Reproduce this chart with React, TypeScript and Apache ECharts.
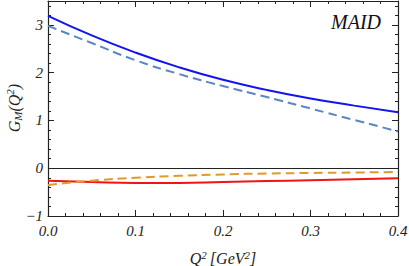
import React, { useEffect, useRef } from "react";
import * as echarts from "echarts";

const q2 = [0, 0.05, 0.1, 0.15, 0.2, 0.25, 0.3, 0.35, 0.4];
const gmSolidBlue = [3.19, 2.78, 2.42, 2.11, 1.85, 1.64, 1.46, 1.31, 1.17];
const gmDashedBlue = [2.98, 2.62, 2.26, 1.97, 1.72, 1.49, 1.25, 1.01, 0.77];
const gmSolidRed = [-0.26, -0.29, -0.31, -0.31, -0.29, -0.27, -0.25, -0.23, -0.21];
const gmDashedOrange = [-0.35, -0.26, -0.2, -0.16, -0.13, -0.11, -0.1, -0.09, -0.08];

const FONT = "Liberation Serif";

const pairs = (ys: number[]) => q2.map((x, i) => [x, ys[i]]);

export default function App() {
  const ref = useRef<HTMLDivElement>(null);
  useEffect(() => {
    if (!ref.current) return;
    const chart = echarts.init(ref.current, null, { renderer: "svg" });
    const frameLine = { show: true, onZero: false, lineStyle: { color: "#222", width: 1.2 } };
    const labelStyle = { fontFamily: FONT, fontStyle: "italic" as const, fontSize: 15, color: "#222" };
    const tick = { show: true, inside: true, length: 6, lineStyle: { color: "#222" } };
    const minor = { show: true, splitNumber: 5, length: 3, lineStyle: { color: "#222" } };
    chart.setOption({
      animation: false,
      backgroundColor: "#fff",
      textStyle: { fontFamily: FONT, fontStyle: "italic" },
      grid: { left: 48, right: 11, top: 1, bottom: 50, containLabel: false, outerBoundsMode: "none" },
      xAxis: [
        {
          type: "value",
          min: 0,
          max: 0.4,
          interval: 0.1,
          axisLine: frameLine,
          axisTick: tick,
          minorTick: minor,
          splitLine: { show: false },
          axisLabel: { ...labelStyle, margin: 7, formatter: (v: number) => v.toFixed(1) },
          name: "{i|Q}{s|2} {i|[GeV}{s|2}{i|]}",
          nameLocation: "middle",
          nameGap: 33,
          nameTextStyle: {
            rich: {
              i: { fontFamily: FONT, fontStyle: "italic", fontSize: 16, color: "#222" },
              s: { fontFamily: FONT, fontStyle: "italic", fontSize: 11, color: "#222", verticalAlign: "top", padding: [0, 0, 8, 0] },
            },
          },
        },
        {
          type: "value",
          position: "top",
          min: 0,
          max: 0.4,
          interval: 0.1,
          axisLine: frameLine,
          axisTick: tick,
          minorTick: minor,
          splitLine: { show: false },
          axisLabel: { show: false },
        },
      ],
      yAxis: [
        {
          type: "value",
          min: -1,
          max: 3.5,
          interval: 1,
          axisLine: frameLine,
          axisTick: tick,
          minorTick: minor,
          splitLine: { show: false },
          axisLabel: {
            ...labelStyle,
            margin: 5,
            formatter: (v: number) => (v > 3.2 ? "" : v < 0 ? "\u2212" + Math.abs(v) : String(v)),
          },
        },
        {
          type: "value",
          position: "right",
          min: -1,
          max: 3.5,
          interval: 1,
          axisLine: frameLine,
          axisTick: tick,
          minorTick: minor,
          splitLine: { show: false },
          axisLabel: { show: false },
        },
      ],
      graphic: [
        {
          type: "text",
          right: 28,
          top: 12,
          style: { text: "MAID", fontFamily: FONT, fontStyle: "italic", fontSize: 20, fill: "#111" },
        },
        {
          type: "text",
          x: 14,
          y: 108,
          rotation: Math.PI / 2,
          style: {
            text: "{i|G}{sub|M}{i|(Q}{s|2}{i|)}",
            align: "center",
            verticalAlign: "middle",
            rich: {
              i: { fontFamily: FONT, fontStyle: "italic", fontSize: 16, fill: "#222" },
              sub: { fontFamily: FONT, fontStyle: "italic", fontSize: 11, fill: "#222", verticalAlign: "bottom", padding: [6, 0, 0, 0] },
              s: { fontFamily: FONT, fontStyle: "italic", fontSize: 11, fill: "#222", verticalAlign: "top", padding: [0, 0, 8, 0] },
            },
          },
        },
      ],
      series: [
        {
          type: "line",
          data: pairs(gmSolidBlue),
          smooth: true,
          showSymbol: false,
          lineStyle: { color: "#1414f0", width: 2 },
          markLine: {
            silent: true,
            symbol: "none",
            label: { show: false },
            lineStyle: { color: "#222", width: 1, type: "solid" },
            data: [{ yAxis: 0 }],
          },
        },
        {
          type: "line",
          data: pairs(gmDashedBlue),
          smooth: true,
          showSymbol: false,
          lineStyle: { color: "#5b86c4", width: 2, type: [9, 5] },
        },
        {
          type: "line",
          data: pairs(gmSolidRed),
          smooth: true,
          showSymbol: false,
          lineStyle: { color: "#f01414", width: 2 },
        },
        {
          type: "line",
          data: pairs(gmDashedOrange),
          smooth: true,
          showSymbol: false,
          lineStyle: { color: "#e09a2a", width: 2, type: [9, 5] },
        },
      ],
    });
    return () => chart.dispose();
  }, []);
  return <div ref={ref} style={{ position: "fixed", left: 0, top: 0, width: 409, height: 266 }} />;
}
